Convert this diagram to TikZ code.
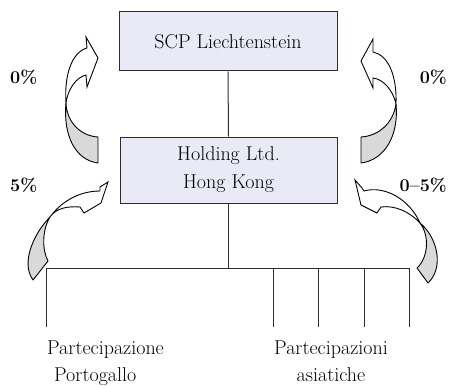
\documentclass[tikz,border=0pt]{standalone}
\usepackage{fontspec}
\definecolor{boxfill}{RGB}{234,234,247}
\definecolor{backside}{RGB}{217,217,217}
\definecolor{linegray}{RGB}{45,45,45}
\begin{document}
\begin{tikzpicture}[x=1pt,y=-1pt,
  entity/.style={draw=linegray,line width=1pt,fill=boxfill,align=center,inner sep=0pt,
    font=\fontsize{20}{28}\selectfont},
  wire/.style={draw=linegray,line width=1pt},
  caption/.style={inner sep=0pt,font=\fontsize{20}{27}\selectfont},
  rate/.style={inner sep=0pt,font=\fontsize{18}{20}\selectfont\bfseries},
  ribbonback/.style={draw=black,line width=0.9pt,fill=backside,line join=round},
  ribbonfront/.style={draw=black,line width=0.9pt,fill=white,line join=miter}]
\useasboundingbox (0,0) rectangle (449,385);

% entities
\node[entity,minimum width=218pt,minimum height=59pt] (scp) at (228,41.5) {SCP Liechtenstein};
\node[entity,minimum width=217pt,minimum height=66pt] (hk) at (228.5,170) {Holding Ltd.\\Hong Kong};

% ownership tree
\coordinate (bus) at (228.5,268);
\coordinate (busL) at (46,268);
\coordinate (busR) at (409,268);
\coordinate (p1) at (46,327);
\coordinate (a1top) at (273,268);
\coordinate (a2top) at (318,268);
\coordinate (a3top) at (364,268);
\coordinate (a1) at (273,327);
\coordinate (a2) at (318,327);
\coordinate (a3) at (364,327);
\coordinate (a4) at (409,327);
\draw[wire] (scp.south) -- (hk.north);
\draw[wire] (hk.south) -- (bus);
\draw[wire] (p1) -- (busL) -- (busR) -- (a4);
\draw[wire] (a1top) -- (a1);
\draw[wire] (a2top) -- (a2);
\draw[wire] (a3top) -- (a3);

\node[caption,anchor=north west,align=left] (portugal) at (47,341) {Partecipazione\\\hspace*{7pt}Portogallo};
\node[caption,anchor=north,align=center] (asia) at (331,341) {Partecipazioni\\asiatiche};

% rates
\node[rate,anchor=west] (r1) at (10,77) {0\%};
\node[rate,anchor=east] (r2) at (447,77) {0\%};
\node[rate,anchor=west] (r3) at (10,185) {5\%};
\node[rate,anchor=east] (r4) at (447,185) {0--5\%};

% twisted curved arrows: top left
\path[ribbonback] (66,103) .. controls (63,135) and (75,160) .. (98,163) -- (98,137)
  .. controls (82,136) and (67,124) .. (66,103) -- cycle;
\path[ribbonfront] (66,103) .. controls (64,75) and (72,52) .. (87,48) -- (86,37) -- (98,58)
  -- (87,87) -- (86,75) .. controls (77,77) and (68,88) .. (66,103) -- cycle;

% top right
\path[ribbonback] (396,104) .. controls (399,135) and (385,160) .. (361,163) -- (361,137)
  .. controls (378,136) and (393,124) .. (396,104) -- cycle;
\path[ribbonfront] (396,104) .. controls (397,75) and (388,55) .. (373,52) -- (373,39) -- (361,61)
  -- (373,88) -- (373,78) .. controls (383,79) and (393,90) .. (396,104) -- cycle;

% bottom left
\path[ribbonback] (50,217) .. controls (35,232) and (20,262) .. (33,280) -- (48,261)
  .. controls (42,250) and (42,230) .. (50,217) -- cycle;
\path[ribbonfront] (50,217) .. controls (60,203) and (78,191) .. (100,191) -- (100,187) -- (108,182)
  -- (101,203) -- (84,213) -- (80,207) .. controls (68,206) and (56,208) .. (50,217) -- cycle;

% bottom right
\path[ribbonback] (420,223) .. controls (438,238) and (444,268) .. (428,283) -- (417,268)
  .. controls (428,258) and (430,236) .. (420,223) -- cycle;
\path[ribbonfront] (420,223) .. controls (410,200) and (385,185) .. (364,191) -- (362,188) -- (355,180)
  -- (361,205) -- (377,213) -- (381,207) .. controls (395,205) and (410,212) .. (420,223) -- cycle;
\end{tikzpicture}
\end{document}
